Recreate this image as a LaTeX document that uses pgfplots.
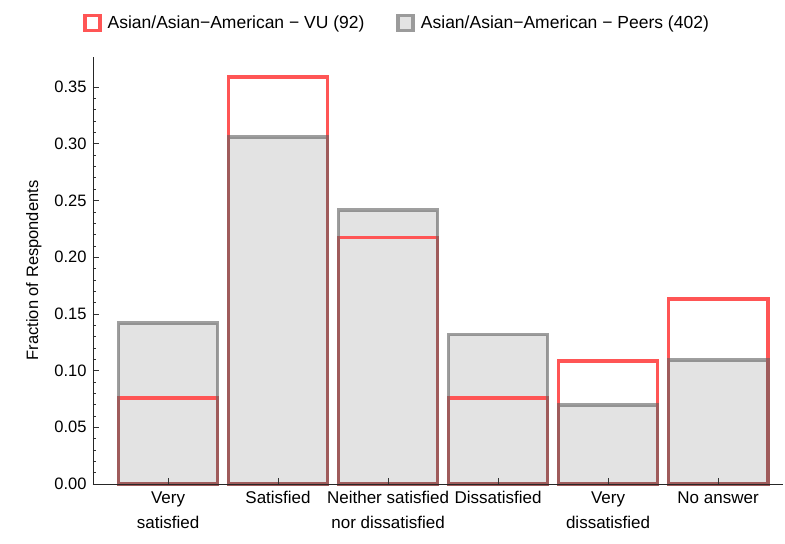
\documentclass[border=0pt]{standalone}
\usepackage{fontspec}
\setmainfont{Liberation Sans}
\usepackage{pgfplots}
\pgfplotsset{compat=1.18}
\definecolor{vured}{RGB}{255,85,85}
\definecolor{peerfill}{RGB}{227,227,227}
\definecolor{peeredge}{RGB}{95,95,95}
\definecolor{legedge}{RGB}{155,155,155}
\begin{document}
\begin{tikzpicture}
\begin{axis}[
  name=ax, scale only axis, width=690bp, height=427bp,
  xmin=0.318, xmax=6.59, ymin=0, ymax=0.3765,
  clip=false, axis on top,
  axis x line=bottom, axis y line=left,
  axis line style={-, black!85, line width=0.7bp},
  tick align=inside, major tick length=6bp, minor tick length=3.5bp,
  tick style={black!80, line width=0.6bp},
  xtick={1,2,3,4,5,6},
  xticklabels={Very\\satisfied, Satisfied, Neither satisfied\\nor dissatisfied, Dissatisfied, Very\\dissatisfied, No answer},
  ytick={0,0.05,0.1,0.15,0.2,0.25,0.3,0.35},
  minor y tick num=4,
  /pgf/number format/assume math mode=true,
  yticklabel style={/pgf/number format/fixed, /pgf/number format/fixed zerofill, /pgf/number format/precision=2, font=\fontsize{16.5bp}{19bp}\selectfont, xshift=-3bp},
  xticklabel style={align=center, font=\fontsize{17bp}{25bp}\selectfont, yshift=-4bp},
  ylabel={Fraction of Respondents},
  ylabel style={font=\fontsize{16.5bp}{19bp}\selectfont, yshift=6bp},
  legend columns=2,
  legend style={at={(-0.0145,1.0796)}, anchor=west, draw=none, fill=none, inner sep=0pt,
    font=\fontsize{17.5bp}{20bp}\selectfont,
    /tikz/every odd column/.append style={column sep=4bp},
    /tikz/every even column/.append style={column sep=30bp}},
  legend cell align=left,
]
\addlegendimage{legend image code/.code={\draw[draw=vured, line width=3.5bp, fill=white] (0bp,-7.5bp) rectangle (15bp,7.5bp);}}
\addlegendentry{Asian/Asian\textminus American \textminus\ VU (92)}
\addlegendimage{legend image code/.code={\draw[draw=legedge, line width=3.5bp, fill=peerfill] (0bp,-7.5bp) rectangle (15bp,7.5bp);}}
\addlegendentry{Asian/Asian\textminus American \textminus\ Peers (402)}

\addplot[ybar, bar width=0.9, bar shift=0pt, fill=peerfill, draw=none, forget plot]
  coordinates {(1,0.1418) (2,0.3060) (3,0.2413) (4,0.1318) (5,0.0697) (6,0.1095)};
\addplot[ybar, bar width=0.9, bar shift=0pt, fill=none, draw=vured, line width=3.8bp, forget plot]
  coordinates {(1,0.0761) (2,0.3587) (3,0.2174) (4,0.0761) (5,0.1087) (6,0.1630)};
\addplot[ybar, bar width=0.9, bar shift=0pt, fill=none, draw=peeredge, draw opacity=0.6, line width=3.8bp, forget plot]
  coordinates {(1,0.1418) (2,0.3060) (3,0.2413) (4,0.1318) (5,0.0697) (6,0.1095)};
\end{axis}
\path ([xshift=-93bp,yshift=-60bp]ax.south west) rectangle ([xshift=2bp,yshift=57bp]ax.north east);
\end{tikzpicture}
\end{document}
